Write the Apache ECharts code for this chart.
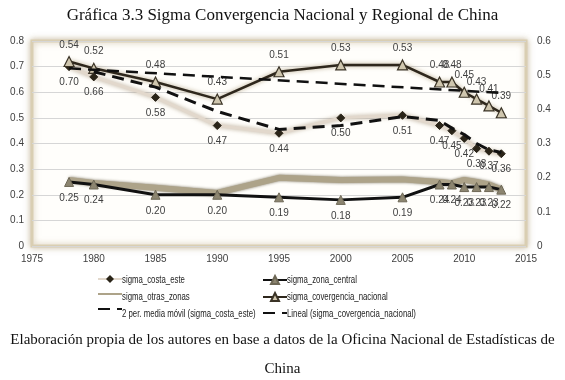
<!DOCTYPE html>
<html>
<head>
<meta charset="utf-8">
<script src="https://cdn.jsdelivr.net/npm/echarts@6/dist/echarts.min.js"></script>
<style>html,body{margin:0;padding:0;background:#fff;}#c{width:565px;height:380px;}</style>
</head>
<body>
<div id="c"></div>
<script>
var years = [1978,1980,1985,1990,1995,2000,2005,2008,2009,2010,2011,2012,2013];
var costaEste = [0.70,0.66,0.58,0.47,0.44,0.50,0.51,0.47,0.45,0.42,0.38,0.37,0.36];
var zonaCentral = [0.25,0.24,0.20,0.20,0.19,0.18,0.19,0.24,0.24,0.23,0.23,0.23,0.22];
var otrasZonas = [0.258,0.246,0.227,0.207,0.266,0.258,0.26,0.25,0.245,0.258,0.25,0.24,0.22];
var convergencia = [0.54,0.52,0.48,0.43,0.51,0.53,0.53,0.48,0.48,0.45,0.43,0.41,0.39];
var mmYears = [1980,1985,1990,1995,2000,2005,2008,2009,2010,2011,2012,2013];
var mediaMovil = [0.68,0.62,0.525,0.455,0.47,0.505,0.49,0.46,0.435,0.40,0.375,0.365];
var linYears = [1978,2013];
var lineal = [0.52,0.448];
var legendCol1 = ['sigma_costa_este','sigma_otras_zonas','2 per. media móvil (sigma_costa_este)'];
var legendCol2 = ['sigma_zona_central','sigma_covergencia_nacional','Lineal (sigma_covergencia_nacional)'];

function pairs(xs, ys){ return xs.map(function(x,i){return [x, ys[i]];}); }

var sans = 'Liberation Sans';
var lblStyle = {show:true, fontSize:10, color:'#404040', fontFamily:sans,
  formatter:function(p){return p.value[1].toFixed(2);}};
var clear = 'rgba(0,0,0,0)';

var legendBase = {orient:'vertical', top:275, padding:0, itemWidth:24, itemHeight:10, itemGap:7,
  formatter:function(){return '';}, textStyle:{fontSize:8, lineHeight:10}};

var graphics = [
  {type:'text', left:'center', top:333, style:{text:'Elaboración propia de los autores en base a datos de la Oficina Nacional de Estadísticas de',
    font:'15px "Liberation Serif"', fill:'#111'}},
  {type:'text', left:'center', top:362, style:{text:'China', font:'15px "Liberation Serif"', fill:'#111'}}
];
[legendCol1, legendCol2].forEach(function(col, ci){
  col.forEach(function(name, ri){
    graphics.push({type:'text', x:(ci===0?122:287), y:280 + ri*17, scaleX:0.71, scaleY:1,
      style:{text:name, font:'11px "Liberation Sans"', fill:'#222', verticalAlign:'middle', align:'left'}});
  });
});

var chart = echarts.init(document.getElementById('c'), null, {renderer:'canvas'});
chart.setOption({
  animation:false,
  backgroundColor:'#ffffff',
  title:{text:'Gráfica 3.3 Sigma Convergencia Nacional y Regional de China', left:'center', top:2,
    textStyle:{fontFamily:'Liberation Serif', fontSize:17, fontWeight:'normal', color:'#111'}},
  grid:{left:32, right:39, top:41, bottom:134, show:true, backgroundColor:'#fffefb',
    borderColor:'#d9ceb2', borderWidth:3, shadowColor:'rgba(170,150,110,0.6)', shadowBlur:6},
  xAxis:{type:'value', min:1975, max:2015, interval:5,
    axisLine:{show:false}, axisTick:{show:false}, splitLine:{show:false},
    axisLabel:{fontSize:10, color:'#404040', fontFamily:sans, margin:8, formatter:function(v){return String(v);}}},
  yAxis:[
    {type:'value', min:0, max:0.8, interval:0.1, position:'left',
      axisLine:{show:false}, axisTick:{show:false},
      splitLine:{show:true, lineStyle:{color:'#d6d6d6', width:1}},
      axisLabel:{fontSize:10, color:'#404040', fontFamily:sans, margin:8, formatter:function(v){return String(+v.toFixed(1));}}},
    {type:'value', min:0, max:0.6, interval:0.1, position:'right',
      axisLine:{show:false}, axisTick:{show:false}, splitLine:{show:false},
      axisLabel:{fontSize:10, color:'#404040', fontFamily:sans, margin:11, formatter:function(v){return String(+v.toFixed(1));}}}
  ],
  legend:[
    Object.assign({left:97, data:legendCol1}, legendBase),
    Object.assign({left:262, data:legendCol2}, legendBase)
  ],
  series:[
    {name:'sigma_otras_zonas', type:'line', yAxisIndex:0, data:pairs(years, otrasZonas),
      symbol:'none', z:2,
      lineStyle:{color:'#ada389', width:6, shadowColor:'rgba(90,80,55,0.8)', shadowBlur:3},
      itemStyle:{color:clear}},
    {name:'sigma_zona_central', type:'line', yAxisIndex:0, data:pairs(years, zonaCentral),
      symbol:'triangle', symbolSize:9, z:3,
      lineStyle:{color:'#111', width:3},
      itemStyle:{color:'#8c8570', borderColor:'#6e6856', borderWidth:1},
      label:Object.assign({position:'bottom', distance:6}, lblStyle)},
    {name:'sigma_costa_este', type:'line', yAxisIndex:0, data:pairs(years, costaEste),
      symbol:'diamond', symbolSize:8, z:3,
      lineStyle:{color:'#e2d8cc', width:3, shadowColor:'rgba(150,130,100,0.7)', shadowBlur:4},
      itemStyle:{color:'#2a2418', borderColor:'#2a2418'},
      label:Object.assign({position:'bottom', distance:6}, lblStyle)},
    {name:'sigma_covergencia_nacional', type:'line', yAxisIndex:1, data:pairs(years, convergencia),
      symbol:'triangle', symbolSize:10, z:4,
      lineStyle:{color:'#2e271c', width:2.5, shadowColor:'rgba(150,130,90,0.7)', shadowBlur:4},
      itemStyle:{color:'#cfc6ae', borderColor:'#3a3326', borderWidth:1.2},
      label:Object.assign({position:'top', distance:6}, lblStyle)},
    {name:'2 per. media móvil (sigma_costa_este)', type:'line', yAxisIndex:0, data:pairs(mmYears, mediaMovil),
      symbol:'none', z:5,
      lineStyle:{color:'#111', width:3, type:[12,7]},
      itemStyle:{color:clear}},
    {name:'Lineal (sigma_covergencia_nacional)', type:'line', yAxisIndex:1, data:pairs(linYears, lineal),
      symbol:'none', z:5,
      lineStyle:{color:'#111', width:2.5, type:[12,7]},
      itemStyle:{color:clear}}
  ],
  graphic:graphics
});
</script>
</body>
</html>
